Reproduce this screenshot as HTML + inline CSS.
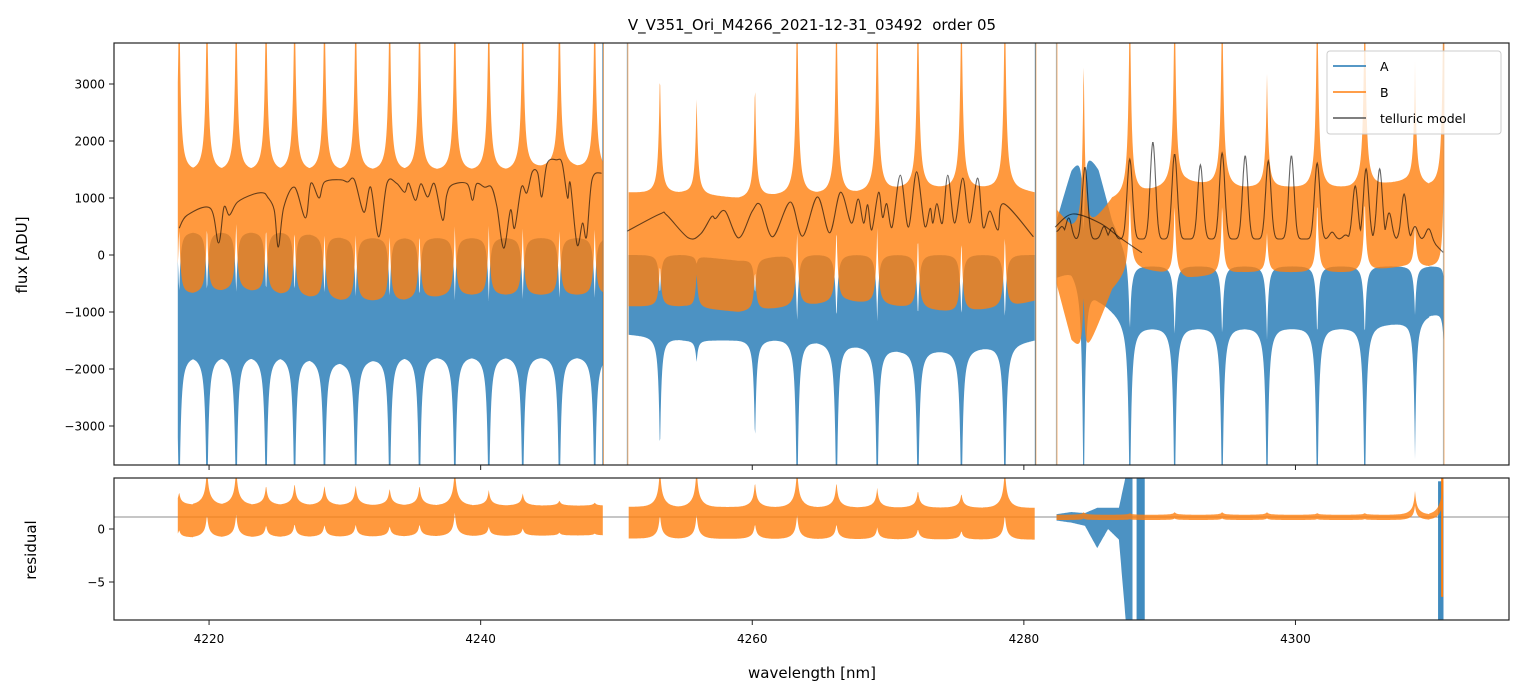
<!DOCTYPE html>
<html><head><meta charset="utf-8">
<style>
html,body{margin:0;padding:0;background:#fff;}
svg{display:block;font-family:"DejaVu Sans","Liberation Sans",sans-serif;}
</style></head>
<body>
<svg id="chart" width="1523" height="696" viewBox="0 0 1523 696" xmlns="http://www.w3.org/2000/svg">
<defs>
<clipPath id="clipTop"><rect x="114" y="43" width="1395" height="422"/></clipPath>
<clipPath id="clipRes"><rect x="114" y="478" width="1395" height="142"/></clipPath>
</defs>
<rect x="0" y="0" width="1523" height="696" fill="#fff"/>
<text x="812" y="30" text-anchor="middle" font-size="15" fill="#000">V_V351_Ori_M4266_2021-12-31_03492 &#160;order 05</text>
<g id="topData" clip-path="url(#clipTop)"></g>
<g id="resData" clip-path="url(#clipRes)"></g>
<g id="axes"></g>
<text x="0" y="0" transform="translate(27,255) rotate(-90)" text-anchor="middle" font-size="15">flux [ADU]</text>
<text x="0" y="0" transform="translate(36,550) rotate(-90)" text-anchor="middle" font-size="15">residual</text>
<text x="812" y="678" text-anchor="middle" font-size="15">wavelength [nm]</text>
<g>
<rect x="1327" y="51" width="174" height="83" rx="3" fill="#fff" fill-opacity="0.8" stroke="#ccc" stroke-width="1"/>
<line x1="1333" y1="66" x2="1366" y2="66" stroke="#1f77b4" stroke-width="1.5"/>
<text x="1380" y="71" font-size="12.5">A</text>
<line x1="1333" y1="92" x2="1366" y2="92" stroke="#ff7f0e" stroke-width="1.5"/>
<text x="1380" y="97" font-size="12.5">B</text>
<line x1="1333" y1="118" x2="1366" y2="118" stroke="#555" stroke-width="1.5"/>
<text x="1380" y="123" font-size="12.5">telluric model</text>
</g>
</svg>
<script>
// ---- data ----
const segStart = [4217.7, 4250.9, 4282.4];
const segEnd = [4249.0, 4280.8, 4310.9];
const bandWl = [4217.7,4222,4226,4230,4234,4238,4242,4246,4249, 4250.9,4255,4259,4263,4267,4271,4275,4279,4280.8, 4282.4,4283.5,4284.5,4285.5,4286.5,4288,4292,4296,4300,4304,4308,4310.9];
const orangeHi = [1500,1500,1500,1500,1500,1500,1500,1600,1500, 1100,1100,1000,1100,1100,1200,1200,1200,1100, 800,500,400,700,1000,1100,1300,1200,1200,1200,1300,1200];
const orangeLo = [-700,-600,-700,-800,-800,-700,-700,-700,-700, -900,-900,-1000,-900,-800,-900,-1000,-900,-800, -500,-1500,-1800,-1200,-600,-200,-400,-300,-300,-300,-200,-200];
const blueHi = [400,400,400,300,300,300,300,300,300, 0,0,-100,0,0,0,0,0,0, 600,1500,1900,1500,600,-200,-200,-200,-200,-200,-200,-200];
const blueLo = [-1800,-1800,-1800,-1900,-1800,-1800,-1800,-1800,-1800, -1400,-1500,-1500,-1500,-1600,-1700,-1700,-1600,-1500, -400,-300,-500,-800,-1000,-1300,-1300,-1300,-1300,-1300,-1200,-1000];
const peakWl = [4217.8,4219.85,4222.0,4224.2,4226.3,4228.5,4230.8,4233.3,4235.5,4238.1,4240.6,4243.1,4245.8,4248.4, 4253.2,4255.9,4260.2,4263.3,4266.2,4269.2,4272.2,4275.4,4278.6, 4284.4,4287.8,4291.1,4294.6,4297.9,4301.6,4305.1,4308.8,4310.9];
const orangePeak = [5000,5000,5000,5000,5000,5000,5000,5000,5000,5000,5000,5000,5000,5000, 3330,2840,3120,5000,5000,5000,5000,5000,5000, 3600,5000,5000,5000,3190,5000,5000,3420,5000];
const blueDip = [-5000,-5000,-5000,-5000,-5000,-5000,-5000,-5000,-5000,-5000,-5000,-5000,-5000,-5000, -3560,-1900,-3370,-5000,-5000,-5000,-5000,-5000,-5000, -5000,-5000,-5000,-5000,-5000,-5000,-5000,-3600,-1500];
const tell1Wl = [4217.8,4218.4,4220.1,4220.7,4221.1,4221.5,4222.1,4223.3,4224.0,4224.3,4224.8,4225.1,4225.5,4226.3,4227.1,4227.5,4228.1,4228.5,4229.7,4230.2,4230.7,4231.4,4231.9,4232.5,4233.1,4233.8,4234.4,4234.7,4235.2,4235.6,4236.1,4236.6,4237.2,4237.5,4237.9,4239.0,4239.4,4239.7,4240.3,4240.8,4241.2,4241.7,4242.2,4242.5,4243.0,4243.4,4243.8,4244.2,4244.5,4244.9,4245.6,4246.0,4246.4,4246.6,4247.1,4247.5,4247.8,4248.2,4248.9];
const tell1Val = [470,700,820,210,840,700,930,1070,1090,1020,790,140,840,1190,650,1260,1000,1280,1320,1280,1320,750,1190,320,1260,1260,1100,1260,960,1250,1020,1250,610,1050,1230,1250,960,1250,1190,1190,840,120,790,470,1190,1090,1460,1440,1020,1610,1670,1610,1000,1260,180,560,320,1320,1440];
const tell2Wl = [4250.8,4253.2,4253.7,4255.3,4256.2,4257.0,4257.3,4258.0,4259.0,4260.0,4260.6,4261.5,4262.8,4263.7,4264.8,4265.7,4266.5,4267.3,4267.8,4268.2,4268.5,4268.8,4269.3,4269.6,4269.9,4270.3,4270.9,4271.5,4272.1,4272.7,4273.1,4273.3,4273.6,4274.0,4274.4,4274.9,4275.5,4276.0,4276.6,4277.0,4277.5,4278.1,4278.5,4280.7];
const tell2Val = [420,720,700,300,370,670,640,770,300,770,880,320,930,330,1020,390,1100,560,980,560,880,440,1100,660,900,490,1400,490,1460,510,820,560,900,560,1400,560,1350,560,1350,490,770,440,900,320];
const tell3PeakWl = [4282.8,4283.3,4284.5,4285.9,4286.5,4287.8,4289.5,4291.1,4293.0,4294.6,4296.3,4298.0,4299.7,4301.6,4302.7,4303.7,4304.4,4305.2,4306.2,4306.9,4308.0,4308.8,4309.8];
const tell3PeakVal = [500,650,1540,500,480,1680,1980,1770,1580,1790,1740,1650,1740,1610,400,350,1210,1510,1510,740,1070,500,460];
const tell3Base = [400,280,280,40];
const tell3BaseWl = [4282.4,4283.8,4309.9,4310.9];
const tell3bWl = [4282.3,4283.6,4285.6,4287.1,4288.7];
const tell3bVal = [490,720,560,300,40];
const resBandWl = [4217.7,4249.0,4250.9,4280.8,4282.4,4310.9];
const resHi = [2.3,2.2,2.1,2.0,1.35,1.35];
const resLo = [-0.8,-0.6,-0.9,-1.0,0.85,0.85];
const resPeak = [3.5,6,6,4.2,4.4,4.2,4.2,3.9,4.2,6,3.7,3.4,2.7,2.5, 6,6,4.5,6,4.5,3.9,3.7,3.4,6, 1.6,1.5,1.6,1.6,1.6,1.5,1.5,3.6,6];
const blueResWl = [4282.4,4283.5,4284.5,4285.4,4286.2,4287.0,4287.5,4288.0];
const blueResHi = [1.4,1.6,1.5,2.0,2.0,2.0,5,5];
const blueResLo = [0.8,0.6,0.3,-1.8,0,-1,-8.6,-8.6];
const blueResBarWl = [4288.3, 4310.5];
const blueResBarEnd = [4288.9, 4310.9];
const blueResBarTop = [4.8, 4.5];
const orangeResSpikeWl = [4310.8];
const orangeResSpikeTop = [4.8];
const orangeResSpikeBot = [-6.4];
const edgeWl = [4249.0, 4250.8, 4280.85, 4282.4, 4310.9];
const edgeBlueOpacity = [0.8, 0.45, 0.8, 0.4, 0.4];
const xTicks = [4220, 4240, 4260, 4280, 4300];
const yTicks = [3000, 2000, 1000, 0, -1000, -2000, -3000];
const resTicks = [0, -5];

// ---- scales ----
const X = wl => 114 + (wl - 4213.0) * 13.58;
const Yt = v => 255 - v * 0.057;
const Yr = v => 529 - v * 10.6;
const NS = "http://www.w3.org/2000/svg";
function interp(xs, ys, x){
  if (x <= xs[0]) return ys[0];
  for (let i = 1; i < xs.length; i++) if (x <= xs[i]) { const t = (x - xs[i-1]) / (xs[i] - xs[i-1]); return ys[i-1] + t*(ys[i]-ys[i-1]); }
  return ys[ys.length-1];
}
function fk(d){ d = Math.abs(d); return 0.72*Math.exp(-d/0.09) + 0.28*Math.exp(-d/0.3); }
function gk(d){ d = Math.abs(d); return 0.5*Math.exp(-d/0.08) + 0.5*Math.exp(-d/0.35); }
function mk(tag, attrs, parent){ const e = document.createElementNS(NS, tag); for (const k in attrs) e.setAttribute(k, attrs[k]); parent.appendChild(e); return e; }
function nearest(wl){ let best = 0, bd = 1e9; for (let i = 0; i < peakWl.length; i++){ const d = Math.abs(wl - peakWl[i]); if (d < bd){ bd = d; best = i; } } return best; }

const topG = document.getElementById('topData');
const resG = document.getElementById('resData');
const axesG = document.getElementById('axes');

function bandPoly(kind, s){
  const up = [], dn = [];
  const x0 = X(segStart[s]), x1 = X(segEnd[s]);
  for (let x = x0; x <= x1 + 0.01; x += 0.5){
    const wl = 4213.0 + (x - 114) / 13.58;
    const i = nearest(wl), d = wl - peakWl[i], k = fk(d);
    let hi, lo;
    if (kind === 'orange'){
      const bh = interp(bandWl, orangeHi, wl), bl = interp(bandWl, orangeLo, wl);
      hi = bh + k*(orangePeak[i] - bh); lo = bl + k*(orangePeak[i] - bh)*0.35;
    } else {
      const bh = interp(bandWl, blueHi, wl), bl = interp(bandWl, blueLo, wl);
      lo = bl + k*(blueDip[i] - bl); hi = bh + k*(blueDip[i] - bl)*0.35;
    }
    up.push(x.toFixed(1) + ',' + Yt(hi).toFixed(1));
    dn.push(x.toFixed(1) + ',' + Yt(lo).toFixed(1));
  }
  return up.concat(dn.reverse()).join(' ');
}
for (let s = 0; s < 3; s++){
  const p = mk('polygon', {points: bandPoly('blue', s), fill: '#1f77b4', 'fill-opacity': 0.8}, topG);
  
  
}
for (let i = 0; i < edgeWl.length; i++){
  const l = mk('line', {x1: X(edgeWl[i]), x2: X(edgeWl[i]), y1: 43, y2: 465, stroke: '#1f77b4', 'stroke-opacity': edgeBlueOpacity[i], 'stroke-width': 1.2}, topG);
  
  
}
for (let s = 0; s < 3; s++){
  const p = mk('polygon', {points: bandPoly('orange', s), fill: '#ff7f0e', 'fill-opacity': 0.8}, topG);
  
  
}
for (let i = 0; i < edgeWl.length; i++){
  const l = mk('line', {x1: X(edgeWl[i]) + 0.5, x2: X(edgeWl[i]) + 0.5, y1: 43, y2: 465, stroke: '#ff7f0e', 'stroke-opacity': 0.6, 'stroke-width': 1}, topG);
  
  
}
function smoothPath(xs, ys){
  const P = xs.map((w, i) => [X(w), Yt(ys[i])]);
  let d = 'M' + P[0][0].toFixed(1) + ',' + P[0][1].toFixed(1);
  for (let i = 0; i < P.length - 1; i++){
    const p0 = P[Math.max(0, i-1)], p1 = P[i], p2 = P[i+1], p3 = P[Math.min(P.length-1, i+2)];
    const c1 = [p1[0] + (p2[0]-p0[0])/6, p1[1] + (p2[1]-p0[1])/6];
    const c2 = [p2[0] - (p3[0]-p1[0])/6, p2[1] - (p3[1]-p1[1])/6];
    d += ' C' + c1[0].toFixed(1) + ',' + c1[1].toFixed(1) + ' ' + c2[0].toFixed(1) + ',' + c2[1].toFixed(1) + ' ' + p2[0].toFixed(1) + ',' + p2[1].toFixed(1);
  }
  return d;
}
const t1 = mk('path', {d: smoothPath(tell1Wl, tell1Val), fill: 'none', stroke: '#000', 'stroke-opacity': 0.6, 'stroke-width': 1.1}, topG);


const t2 = mk('path', {d: smoothPath(tell2Wl, tell2Val), fill: 'none', stroke: '#000', 'stroke-opacity': 0.6, 'stroke-width': 1.1}, topG);


const t3pts = [];
for (let wl = 4282.4; wl <= 4310.9; wl += 0.04){
  const b = interp(tell3BaseWl, tell3Base, wl);
  let v = b;
  for (let i = 0; i < tell3PeakWl.length; i++){ const c = b + (tell3PeakVal[i] - b) * Math.exp(-Math.pow((wl - tell3PeakWl[i]) / 0.28, 2)); if (c > v) v = c; }
  t3pts.push(X(wl).toFixed(1) + ',' + Yt(v).toFixed(1));
}
const t3 = mk('polyline', {points: t3pts.join(' '), fill: 'none', stroke: '#000', 'stroke-opacity': 0.6, 'stroke-width': 1.1}, topG);


const t3b = mk('path', {d: smoothPath(tell3bWl, tell3bVal), fill: 'none', stroke: '#000', 'stroke-opacity': 0.6, 'stroke-width': 1.1}, topG);



// ---- residual panel ----
const hl = mk('line', {x1: 114, x2: 1509, y1: Yr(1.13), y2: Yr(1.13), stroke: '#000', 'stroke-opacity': 0.6, 'stroke-width': 0.8}, resG);


{
  const up = [], dn = [];
  for (let wl = blueResWl[0]; wl <= blueResWl[blueResWl.length-1] + 1e-6; wl += 0.05){
    up.push(X(wl).toFixed(1) + ',' + Yr(interp(blueResWl, blueResHi, wl)).toFixed(1));
    dn.push(X(wl).toFixed(1) + ',' + Yr(interp(blueResWl, blueResLo, wl)).toFixed(1));
  }
  const p = mk('polygon', {points: up.concat(dn.reverse()).join(' '), fill: '#1f77b4', 'fill-opacity': 0.8}, resG);
  
  
  for (let i = 0; i < blueResBarWl.length; i++){
    const r = mk('rect', {x: X(blueResBarWl[i]), y: Yr(blueResBarTop[i]), width: X(blueResBarEnd[i]) - X(blueResBarWl[i]), height: 620 - Yr(blueResBarTop[i]), fill: '#1f77b4', 'fill-opacity': 0.85}, resG);
    
    
  }
}
for (let s = 0; s < 3; s++){
  const up = [], dn = [];
  for (let x = X(segStart[s]); x <= X(segEnd[s]) + 0.01; x += 0.5){
    const wl = 4213.0 + (x - 114) / 13.58;
    const i = nearest(wl), k = gk(wl - peakWl[i]);
    const bh = interp(resBandWl, resHi, wl), bl = interp(resBandWl, resLo, wl);
    const hi = bh + k*(resPeak[i] - bh), lo = bl + k*(resPeak[i] - bh)*0.6;
    up.push(x.toFixed(1) + ',' + Yr(hi).toFixed(1));
    dn.push(x.toFixed(1) + ',' + Yr(lo).toFixed(1));
  }
  const p = mk('polygon', {points: up.concat(dn.reverse()).join(' '), fill: '#ff7f0e', 'fill-opacity': 0.8}, resG);
  
  
}
for (let i = 0; i < orangeResSpikeWl.length; i++){
  const l = mk('line', {x1: X(orangeResSpikeWl[i]), x2: X(orangeResSpikeWl[i]), y1: Yr(orangeResSpikeTop[i]), y2: Yr(orangeResSpikeBot[i]), stroke: '#ff7f0e', 'stroke-width': 2}, resG);
  
  
}

// ---- axes ----
const f1 = mk('rect', {x: 114, y: 43, width: 1395, height: 422, fill: 'none', stroke: '#222', 'stroke-width': 1.2}, axesG);


const f2 = mk('rect', {x: 114, y: 478, width: 1395, height: 142, fill: 'none', stroke: '#222', 'stroke-width': 1.2}, axesG);


for (const t of xTicks){
  const x = X(t);
  const a = mk('line', {x1: x, x2: x, y1: 465, y2: 470, stroke: '#222', 'stroke-width': 1}, axesG);
  
  
  const b = mk('line', {x1: x, x2: x, y1: 620, y2: 625, stroke: '#222', 'stroke-width': 1}, axesG);
  
  
  const tx = mk('text', {x: x, y: 643, 'text-anchor': 'middle', 'font-size': 12}, axesG);
  tx.textContent = String(t);
  
  
}
for (const t of yTicks){
  const y = Yt(t);
  const a = mk('line', {x1: 109, x2: 114, y1: y, y2: y, stroke: '#222', 'stroke-width': 1}, axesG);
  
  
  const tx = mk('text', {x: 105, y: y + 4.5, 'text-anchor': 'end', 'font-size': 12}, axesG);
  tx.textContent = t < 0 ? '\u2212' + Math.abs(t) : String(t);
  
  
}
for (const t of resTicks){
  const y = Yr(t);
  const a = mk('line', {x1: 109, x2: 114, y1: y, y2: y, stroke: '#222', 'stroke-width': 1}, axesG);
  
  
  const tx = mk('text', {x: 105, y: y + 4.5, 'text-anchor': 'end', 'font-size': 12}, axesG);
  tx.textContent = t < 0 ? '\u2212' + Math.abs(t) : String(t);
  
  
}
</script>
</body></html>
